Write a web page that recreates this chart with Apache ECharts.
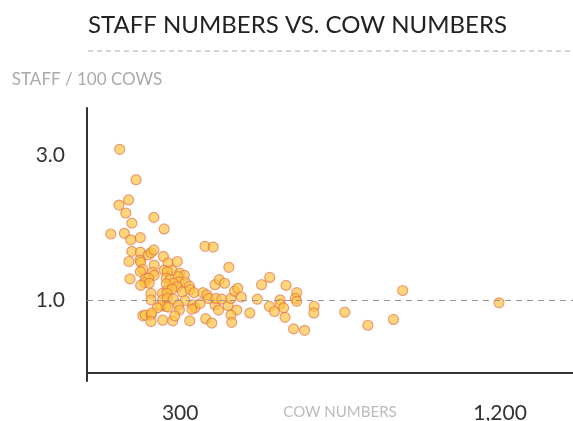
<!DOCTYPE html>
<html>
<head>
<meta charset="utf-8">
<script src="https://cdn.jsdelivr.net/npm/echarts@6/dist/echarts.min.js"></script>
<style>
  html, body { margin: 0; padding: 0; background: #fff; }
  #chart { width: 573px; height: 421px; }
</style>
</head>
<body>
<div id="chart"></div>
<script>
// 牛群规模（头）
const cowNumbers = [
  130, 176, 155, 128, 147, 164, 226, 255, 105, 143, 161, 188,
  370, 393, 164, 188, 210, 218, 226, 156, 187, 189, 253, 266,
  292, 227, 195, 188, 223, 227, 255, 277, 264, 299, 312, 159,
  202, 211, 200, 213, 189, 261, 272, 294, 297, 281, 261, 315,
  326, 292, 264, 277, 306, 328, 339, 218, 250, 263, 218, 251,
  264, 281, 314, 259, 245, 236, 266, 295, 298, 336, 342, 333,
  356, 364, 375, 398, 410, 195, 202, 218, 220, 218, 251, 279,
  285, 327, 372, 389, 398, 408, 437, 425, 380, 401, 417, 435,
  443, 453, 462, 472, 459, 443, 445, 496, 517, 529, 552, 598,
  628, 624, 628, 581, 581, 551, 565, 591, 595, 619, 650, 677,
  676, 763, 828, 900, 926, 1197
]
// 每百头牛的员工数
const staffPer100 = [
  3.08, 2.66, 2.38, 2.31, 2.20, 2.06, 2.14, 1.98, 1.91, 1.92, 1.83, 1.86,
  1.74, 1.73, 1.67, 1.66, 1.62, 1.65, 1.69, 1.53, 1.55, 1.52, 1.60, 1.51,
  1.53, 1.48, 1.42, 1.39, 1.38, 1.34, 1.41, 1.41, 1.39, 1.37, 1.34, 1.29,
  1.29, 1.30, 1.24, 1.23, 1.20, 1.30, 1.28, 1.32, 1.25, 1.23, 1.22, 1.24,
  1.19, 1.18, 1.13, 1.15, 1.11, 1.14, 1.10, 1.09, 1.09, 1.09, 1.00, 1.00,
  1.02, 1.01, 0.99, 0.91, 0.92, 0.89, 0.90, 0.93, 0.86, 0.93, 0.89, 0.87,
  0.95, 1.10, 1.07, 1.21, 1.28, 0.78, 0.79, 0.79, 0.82, 0.70, 0.72, 0.71,
  0.78, 0.71, 0.74, 0.68, 0.93, 0.86, 1.45, 1.23, 1.02, 1.02, 1.01, 0.92,
  1.02, 1.12, 1.16, 1.04, 0.86, 0.79, 0.69, 0.82, 1.01, 1.21, 1.31, 1.20,
  1.10, 1.02, 0.98, 1.00, 0.94, 0.91, 0.84, 0.89, 0.76, 0.60, 0.58, 0.91,
  0.82, 0.83, 0.65, 0.73, 1.13, 0.96
]
const xTicks = [300, 1200]
const yTicks = [1, 3]
const refLine = 1

const chart = echarts.init(document.getElementById('chart'))

const points = cowNumbers.map((x, i) => [x, staffPer100[i]])

const option = {
  animation: false,
  title: {
    text: 'STAFF NUMBERS VS. COW NUMBERS',
    left: 83,
    top: 8,
    textStyle: {
      fontFamily: 'Lato',
      fontSize: 24,
      fontWeight: 'normal',
      color: '#222'
    }
  },
  graphic: [
    {
      type: 'line',
      shape: { x1: 88, y1: 51, x2: 573, y2: 51 },
      style: { stroke: '#aaa', lineWidth: 1, lineDash: [5, 4] }
    }
  ],
  grid: {
    left: 87,
    right: 0,
    top: 108,
    bottom: 40,
    containLabel: false,
    outerBoundsMode: 'none'
  },
  xAxis: {
    type: 'value',
    min: 38,
    max: 1405,
    name: 'COW NUMBERS',
    nameLocation: 'middle',
    nameGap: 24,
    nameMoveOverlap: false,
    nameTextStyle: {
      fontFamily: 'Lato',
      fontSize: 15,
      color: '#bbb',
      padding: [0, 0, 0, 20]
    },
    axisLine: { lineStyle: { color: '#333', width: 2 } },
    axisTick: { show: false },
    splitLine: { show: false },
    axisLabel: {
      customValues: xTicks,
      margin: 22,
      fontFamily: 'Lato',
      fontSize: 21,
      color: '#333',
      formatter: v => v.toLocaleString('en-US')
    }
  },
  yAxis: {
    type: 'value',
    min: -0.12,
    max: 3.65,
    name: 'STAFF / 100 COWS',
    nameLocation: 'end',
    nameGap: 20,
    nameTextStyle: {
      fontFamily: 'Lato',
      fontSize: 17,
      color: '#aaa',
      align: 'center'
    },
    axisLine: { show: true, lineStyle: { color: '#333', width: 2 } },
    axisTick: { show: false },
    splitLine: { show: false },
    axisLabel: {
      customValues: yTicks,
      margin: 22,
      fontFamily: 'Lato',
      fontSize: 21,
      color: '#333',
      formatter: v => v.toFixed(1)
    }
  },
  series: [
    {
      type: 'scatter',
      data: points,
      symbolSize: 10,
      itemStyle: {
        color: 'rgba(255, 196, 60, 0.85)',
        borderColor: 'rgba(220, 110, 80, 0.8)',
        borderWidth: 1.2
      },
      markLine: {
        silent: true,
        symbol: 'none',
        label: { show: false },
        lineStyle: { color: '#999', type: [6, 5], width: 1 },
        data: [{ yAxis: refLine }]
      }
    }
  ]
}

chart.setOption(option)
</script>
</body>
</html>
